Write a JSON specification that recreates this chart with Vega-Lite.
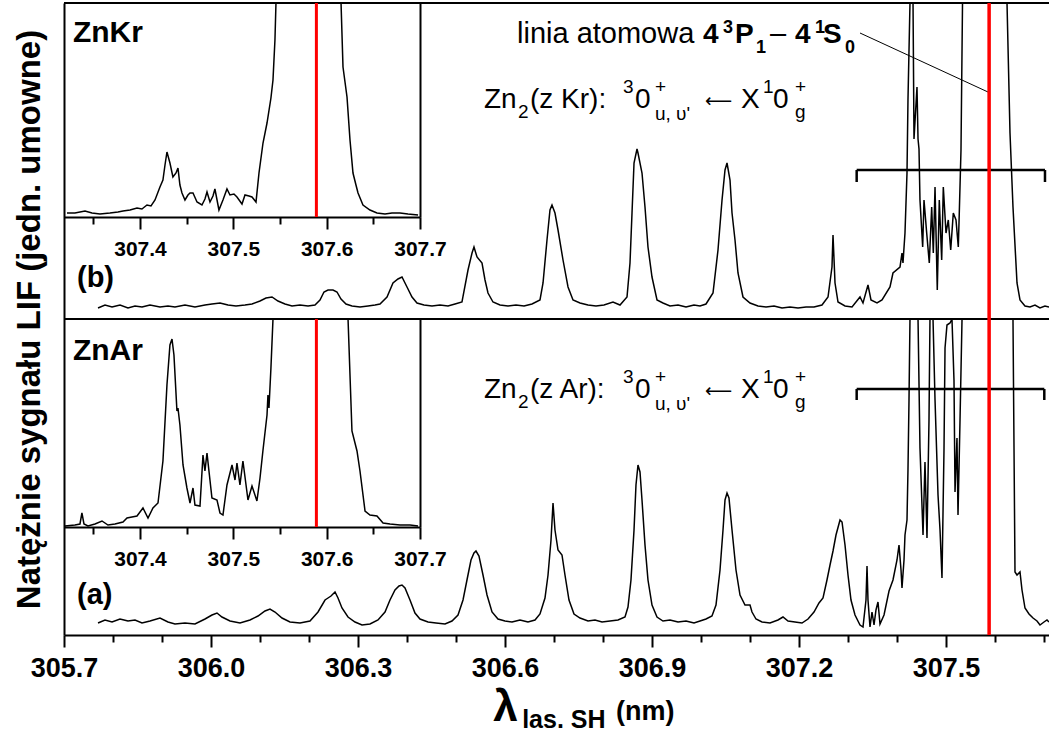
{
  "$schema": "https://vega.github.io/schema/vega-lite/v6.json",
  "width": 985,
  "height": 632,
  "autosize": {"type": "none"},
  "padding": {"left": 64, "top": 3, "right": 0, "bottom": 98},
  "background": "white",
  "config": {"view": {"stroke": null}, "font": "Liberation Sans"},
  "datasets": {
    "b": [
      {"x":305.7694,"y":11},{"x":305.7837,"y":14},{"x":305.7980,"y":12},{"x":305.8143,"y":14},{"x":305.8306,"y":11},{"x":305.8449,"y":13},{"x":305.8592,"y":12},{"x":305.8755,"y":14},{"x":305.8959,"y":12},{"x":305.9122,"y":13},{"x":305.9265,"y":12},{"x":305.9469,"y":14},{"x":305.9673,"y":12},{"x":305.9878,"y":14},{"x":306.0020,"y":15},{"x":306.0184,"y":16},{"x":306.0347,"y":14},{"x":306.0510,"y":13},{"x":306.0694,"y":14},{"x":306.0837,"y":15},{"x":306.1000,"y":18},{"x":306.1122,"y":21},{"x":306.1245,"y":22},{"x":306.1367,"y":18},{"x":306.1510,"y":15},{"x":306.1653,"y":13},{"x":306.1816,"y":14},{"x":306.1980,"y":13},{"x":306.2122,"y":14},{"x":306.2224,"y":19},{"x":306.2306,"y":27},{"x":306.2388,"y":29},{"x":306.2490,"y":29},{"x":306.2571,"y":27},{"x":306.2653,"y":20},{"x":306.2755,"y":15},{"x":306.2878,"y":13},{"x":306.3041,"y":12},{"x":306.3204,"y":13},{"x":306.3347,"y":14},{"x":306.3449,"y":15},{"x":306.3592,"y":22},{"x":306.3714,"y":36},{"x":306.3816,"y":40},{"x":306.3898,"y":42},{"x":306.4000,"y":32},{"x":306.4102,"y":22},{"x":306.4204,"y":16},{"x":306.4347,"y":14},{"x":306.4510,"y":13},{"x":306.4673,"y":14},{"x":306.4837,"y":13},{"x":306.4980,"y":15},{"x":306.5122,"y":17},{"x":306.5245,"y":49},{"x":306.5327,"y":66},{"x":306.5367,"y":72},{"x":306.5429,"y":62},{"x":306.5531,"y":56},{"x":306.5592,"y":39},{"x":306.5653,"y":26},{"x":306.5755,"y":17},{"x":306.5898,"y":14},{"x":306.6061,"y":13},{"x":306.6224,"y":14},{"x":306.6388,"y":13},{"x":306.6551,"y":15},{"x":306.6714,"y":19},{"x":306.6776,"y":36},{"x":306.6857,"y":79},{"x":306.6918,"y":109},{"x":306.6959,"y":114},{"x":306.7020,"y":106},{"x":306.7082,"y":89},{"x":306.7184,"y":59},{"x":306.7286,"y":32},{"x":306.7388,"y":19},{"x":306.7531,"y":16},{"x":306.7694,"y":14},{"x":306.7857,"y":13},{"x":306.8020,"y":14},{"x":306.8204,"y":17},{"x":306.8347,"y":14},{"x":306.8490,"y":22},{"x":306.8551,"y":56},{"x":306.8592,"y":106},{"x":306.8633,"y":156},{"x":306.8694,"y":170},{"x":306.8714,"y":166},{"x":306.8796,"y":146},{"x":306.8857,"y":112},{"x":306.8918,"y":72},{"x":306.9000,"y":42},{"x":306.9102,"y":19},{"x":306.9224,"y":16},{"x":306.9367,"y":13},{"x":306.9531,"y":14},{"x":306.9694,"y":12},{"x":306.9857,"y":14},{"x":306.9980,"y":13},{"x":307.0102,"y":15},{"x":307.0245,"y":26},{"x":307.0347,"y":69},{"x":307.0429,"y":119},{"x":307.0490,"y":149},{"x":307.0531,"y":156},{"x":307.0592,"y":139},{"x":307.0633,"y":106},{"x":307.0694,"y":79},{"x":307.0755,"y":46},{"x":307.0857,"y":22},{"x":307.1000,"y":16},{"x":307.1163,"y":13},{"x":307.1327,"y":12},{"x":307.1490,"y":13},{"x":307.1653,"y":11},{"x":307.1816,"y":12},{"x":307.1980,"y":11},{"x":307.2143,"y":12},{"x":307.2306,"y":12},{"x":307.2469,"y":14},{"x":307.2592,"y":22},{"x":307.2673,"y":52},{"x":307.2694,"y":84},{"x":307.2735,"y":36},{"x":307.2796,"y":17},{"x":307.2939,"y":13},{"x":307.3082,"y":12},{"x":307.3245,"y":22},{"x":307.3306,"y":16},{"x":307.3408,"y":34},{"x":307.3469,"y":19},{"x":307.3592,"y":16},{"x":307.3694,"y":19},{"x":307.3857,"y":32},{"x":307.3918,"y":46},{"x":307.4061,"y":52},{"x":307.4102,"y":66},{"x":307.4122,"y":56},{"x":307.4163,"y":86},{"x":307.4204,"y":146},{"x":307.4224,"y":219},{"x":307.4265,"y":316},{"x":307.4327,"y":316},{"x":307.4347,"y":180},{"x":307.4408,"y":232},{"x":307.4429,"y":180},{"x":307.4449,"y":170},{"x":307.4469,"y":119},{"x":307.4524,"y":72},{"x":307.4551,"y":119},{"x":307.4606,"y":86},{"x":307.4659,"y":56},{"x":307.4708,"y":112},{"x":307.4741,"y":66},{"x":307.4776,"y":132},{"x":307.4822,"y":29},{"x":307.4863,"y":119},{"x":307.4912,"y":59},{"x":307.4945,"y":132},{"x":307.5000,"y":86},{"x":307.5047,"y":99},{"x":307.5096,"y":69},{"x":307.5149,"y":106},{"x":307.5204,"y":99},{"x":307.5251,"y":72},{"x":307.5271,"y":106},{"x":307.5306,"y":169},{"x":307.5337,"y":316},{"x":307.6245,"y":316},{"x":307.6306,"y":186},{"x":307.6367,"y":112},{"x":307.6449,"y":36},{"x":307.6510,"y":19},{"x":307.6612,"y":13},{"x":307.6714,"y":12},{"x":307.6816,"y":14},{"x":307.6918,"y":11},{"x":307.7020,"y":13},{"x":307.7102,"y":12}
    ],
    "a": [
      {"x":305.7694,"y":12},{"x":305.7837,"y":15},{"x":305.7980,"y":13},{"x":305.8143,"y":16},{"x":305.8306,"y":14},{"x":305.8449,"y":15},{"x":305.8592,"y":12},{"x":305.8755,"y":14},{"x":305.8959,"y":17},{"x":305.9122,"y":13},{"x":305.9265,"y":11},{"x":305.9469,"y":12},{"x":305.9673,"y":11},{"x":305.9878,"y":16},{"x":306.0020,"y":20},{"x":306.0122,"y":22},{"x":306.0224,"y":18},{"x":306.0388,"y":14},{"x":306.0592,"y":12},{"x":306.0796,"y":15},{"x":306.0959,"y":19},{"x":306.1102,"y":24},{"x":306.1204,"y":26},{"x":306.1306,"y":23},{"x":306.1449,"y":17},{"x":306.1612,"y":13},{"x":306.1816,"y":12},{"x":306.2020,"y":14},{"x":306.2184,"y":23},{"x":306.2327,"y":35},{"x":306.2388,"y":37},{"x":306.2449,"y":39},{"x":306.2531,"y":43},{"x":306.2592,"y":37},{"x":306.2673,"y":27},{"x":306.2796,"y":18},{"x":306.2939,"y":13},{"x":306.3082,"y":10},{"x":306.3245,"y":11},{"x":306.3408,"y":15},{"x":306.3551,"y":23},{"x":306.3653,"y":35},{"x":306.3755,"y":45},{"x":306.3837,"y":49},{"x":306.3898,"y":50},{"x":306.3959,"y":47},{"x":306.4061,"y":35},{"x":306.4163,"y":22},{"x":306.4265,"y":16},{"x":306.4429,"y":13},{"x":306.4592,"y":12},{"x":306.4776,"y":11},{"x":306.4918,"y":14},{"x":306.5041,"y":20},{"x":306.5143,"y":35},{"x":306.5224,"y":55},{"x":306.5306,"y":75},{"x":306.5367,"y":82},{"x":306.5408,"y":84},{"x":306.5469,"y":79},{"x":306.5551,"y":60},{"x":306.5633,"y":40},{"x":306.5735,"y":23},{"x":306.5857,"y":16},{"x":306.6000,"y":14},{"x":306.6143,"y":13},{"x":306.6306,"y":15},{"x":306.6469,"y":13},{"x":306.6612,"y":15},{"x":306.6714,"y":21},{"x":306.6816,"y":37},{"x":306.6878,"y":60},{"x":306.6939,"y":95},{"x":306.6980,"y":132},{"x":306.7020,"y":105},{"x":306.7082,"y":85},{"x":306.7163,"y":80},{"x":306.7224,"y":60},{"x":306.7306,"y":35},{"x":306.7408,"y":21},{"x":306.7531,"y":17},{"x":306.7694,"y":14},{"x":306.7837,"y":15},{"x":306.7980,"y":13},{"x":306.8143,"y":14},{"x":306.8306,"y":15},{"x":306.8449,"y":18},{"x":306.8510,"y":28},{"x":306.8571,"y":55},{"x":306.8633,"y":105},{"x":306.8673,"y":150},{"x":306.8714,"y":170},{"x":306.8755,"y":163},{"x":306.8796,"y":135},{"x":306.8857,"y":90},{"x":306.8918,"y":55},{"x":306.9000,"y":30},{"x":306.9102,"y":18},{"x":306.9224,"y":14},{"x":306.9367,"y":15},{"x":306.9531,"y":13},{"x":306.9694,"y":14},{"x":306.9857,"y":12},{"x":306.9980,"y":14},{"x":307.0102,"y":16},{"x":307.0224,"y":19},{"x":307.0306,"y":30},{"x":307.0388,"y":65},{"x":307.0449,"y":105},{"x":307.0490,"y":135},{"x":307.0531,"y":142},{"x":307.0571,"y":137},{"x":307.0633,"y":105},{"x":307.0714,"y":65},{"x":307.0796,"y":40},{"x":307.0898,"y":30},{"x":307.1000,"y":30},{"x":307.1041,"y":23},{"x":307.1122,"y":16},{"x":307.1245,"y":13},{"x":307.1408,"y":12},{"x":307.1571,"y":15},{"x":307.1673,"y":18},{"x":307.1776,"y":14},{"x":307.1918,"y":13},{"x":307.2061,"y":12},{"x":307.2184,"y":16},{"x":307.2306,"y":23},{"x":307.2408,"y":32},{"x":307.2490,"y":37},{"x":307.2571,"y":55},{"x":307.2633,"y":70},{"x":307.2694,"y":84},{"x":307.2755,"y":100},{"x":307.2837,"y":115},{"x":307.2878,"y":113},{"x":307.2939,"y":90},{"x":307.3000,"y":60},{"x":307.3061,"y":35},{"x":307.3143,"y":20},{"x":307.3245,"y":10},{"x":307.3306,"y":8},{"x":307.3367,"y":35},{"x":307.3388,"y":69},{"x":307.3408,"y":35},{"x":307.3449,"y":8},{"x":307.3490,"y":23},{"x":307.3531,"y":10},{"x":307.3571,"y":25},{"x":307.3612,"y":33},{"x":307.3653,"y":11},{"x":307.3735,"y":20},{"x":307.3837,"y":44},{"x":307.3918,"y":55},{"x":307.4000,"y":75},{"x":307.4041,"y":90},{"x":307.4082,"y":65},{"x":307.4102,"y":47},{"x":307.4143,"y":75},{"x":307.4163,"y":100},{"x":307.4204,"y":115},{"x":307.4224,"y":165},{"x":307.4245,"y":235},{"x":307.4265,"y":316},{"x":307.4306,"y":316},{"x":307.4429,"y":316},{"x":307.4469,"y":187},{"x":307.4531,"y":100},{"x":307.4571,"y":173},{"x":307.4612,"y":97},{"x":307.4653,"y":215},{"x":307.4673,"y":316},{"x":307.4735,"y":316},{"x":307.4776,"y":235},{"x":307.4837,"y":140},{"x":307.4878,"y":105},{"x":307.4918,"y":57},{"x":307.4959,"y":185},{"x":307.4980,"y":287},{"x":307.5020,"y":310},{"x":307.5082,"y":312},{"x":307.5122,"y":316},{"x":307.5163,"y":255},{"x":307.5184,"y":143},{"x":307.5224,"y":197},{"x":307.5245,"y":120},{"x":307.5286,"y":215},{"x":307.5327,"y":316},{"x":307.6367,"y":316},{"x":307.6408,"y":63},{"x":307.6449,"y":60},{"x":307.6510,"y":63},{"x":307.6551,"y":45},{"x":307.6612,"y":27},{"x":307.6694,"y":21},{"x":307.6776,"y":17},{"x":307.6857,"y":14},{"x":307.6918,"y":10},{"x":307.7000,"y":13},{"x":307.7061,"y":15},{"x":307.7102,"y":13}
    ],
    "ib": [
      {"x":307.3218,"y":4},{"x":307.3303,"y":4},{"x":307.3411,"y":6},{"x":307.3486,"y":4},{"x":307.3571,"y":3},{"x":307.3678,"y":4},{"x":307.3764,"y":5},{"x":307.3818,"y":6},{"x":307.3893,"y":7},{"x":307.3968,"y":9},{"x":307.4021,"y":8},{"x":307.4075,"y":12},{"x":307.4118,"y":11},{"x":307.4161,"y":17},{"x":307.4214,"y":30},{"x":307.4246,"y":37},{"x":307.4268,"y":52},{"x":307.4289,"y":65},{"x":307.4321,"y":54},{"x":307.4353,"y":40},{"x":307.4386,"y":44},{"x":307.4407,"y":49},{"x":307.4428,"y":32},{"x":307.4450,"y":24},{"x":307.4482,"y":17},{"x":307.4514,"y":22},{"x":307.4536,"y":24},{"x":307.4568,"y":24},{"x":307.4611,"y":15},{"x":307.4664,"y":12},{"x":307.4696,"y":18},{"x":307.4718,"y":25},{"x":307.4750,"y":15},{"x":307.4782,"y":21},{"x":307.4803,"y":28},{"x":307.4846,"y":7},{"x":307.4889,"y":17},{"x":307.4932,"y":28},{"x":307.4964,"y":22},{"x":307.5007,"y":23},{"x":307.5039,"y":20},{"x":307.5093,"y":13},{"x":307.5125,"y":22},{"x":307.5168,"y":21},{"x":307.5200,"y":20},{"x":307.5243,"y":15},{"x":307.5275,"y":44},{"x":307.5318,"y":74},{"x":307.5361,"y":94},{"x":307.5403,"y":119},{"x":307.5425,"y":137},{"x":307.5446,"y":177},{"x":307.5457,"y":214},{"x":307.6154,"y":214},{"x":307.6175,"y":150},{"x":307.6218,"y":120},{"x":307.6250,"y":77},{"x":307.6282,"y":44},{"x":307.6314,"y":32},{"x":307.6336,"y":24},{"x":307.6389,"y":12},{"x":307.6464,"y":7},{"x":307.6539,"y":4},{"x":307.6625,"y":3},{"x":307.6700,"y":4},{"x":307.6786,"y":4},{"x":307.6871,"y":3},{"x":307.6979,"y":2}
    ],
    "ia": [
      {"x":307.3196,"y":1},{"x":307.3303,"y":2},{"x":307.3357,"y":3},{"x":307.3378,"y":14},{"x":307.3400,"y":3},{"x":307.3443,"y":1},{"x":307.3518,"y":3},{"x":307.3593,"y":6},{"x":307.3657,"y":2},{"x":307.3732,"y":3},{"x":307.3818,"y":5},{"x":307.3861,"y":9},{"x":307.3914,"y":10},{"x":307.3968,"y":11},{"x":307.4032,"y":19},{"x":307.4086,"y":9},{"x":307.4139,"y":19},{"x":307.4193,"y":24},{"x":307.4246,"y":66},{"x":307.4289,"y":142},{"x":307.4321,"y":182},{"x":307.4343,"y":188},{"x":307.4364,"y":172},{"x":307.4396,"y":116},{"x":307.4407,"y":119},{"x":307.4428,"y":102},{"x":307.4461,"y":62},{"x":307.4503,"y":39},{"x":307.4536,"y":24},{"x":307.4568,"y":39},{"x":307.4589,"y":22},{"x":307.4643,"y":21},{"x":307.4675,"y":72},{"x":307.4696,"y":56},{"x":307.4718,"y":74},{"x":307.4739,"y":56},{"x":307.4771,"y":29},{"x":307.4825,"y":27},{"x":307.4857,"y":14},{"x":307.4889,"y":12},{"x":307.4932,"y":42},{"x":307.4986,"y":62},{"x":307.5018,"y":47},{"x":307.5039,"y":64},{"x":307.5071,"y":42},{"x":307.5103,"y":66},{"x":307.5157,"y":27},{"x":307.5200,"y":41},{"x":307.5253,"y":26},{"x":307.5286,"y":49},{"x":307.5318,"y":77},{"x":307.5361,"y":112},{"x":307.5371,"y":132},{"x":307.5382,"y":119},{"x":307.5403,"y":159},{"x":307.5425,"y":208},{"x":307.6229,"y":208},{"x":307.6271,"y":96},{"x":307.6325,"y":76},{"x":307.6357,"y":56},{"x":307.6411,"y":16},{"x":307.6464,"y":12},{"x":307.6539,"y":11},{"x":307.6604,"y":4},{"x":307.6679,"y":3},{"x":307.6786,"y":2},{"x":307.6893,"y":2},{"x":307.6979,"y":1}
    ]
  },
  "resolve": {"scale": {"x": "independent", "y": "independent"}},
  "layer": [
    {
      "data": {"values": [{}]},
      "layer": [
        {
          "mark": {"type": "rule", "color": "black", "strokeWidth": 2},
          "encoding": {
            "y": {"datum": 1, "type": "quantitative", "scale": {"domain": [0, 1], "nice": false, "zero": false},
              "axis": {"orient": "left", "title": "Natężnie sygnału LIF (jedn. umowne)", "titleFont": "Liberation Sans", "titleFontSize": 33, "titleFontWeight": "bold", "titleColor": "black", "titlePadding": 18, "ticks": false, "labels": false, "grid": false, "domainColor": "black", "domainWidth": 2}}
          }
        },
        {
          "mark": {"type": "rule", "color": "black", "strokeWidth": 2},
          "encoding": {"y": {"datum": 0.5, "type": "quantitative"}}
        }
      ]
    },
    {
      "encoding": {
        "x": {"field": "x", "type": "quantitative", "scale": {"domain": [305.7, 307.7102], "nice": false, "zero": false},
          "axis": {"orient": "bottom", "values": [305.8, 305.9, 306.1, 306.2, 306.4, 306.5, 306.7, 306.8, 307.0, 307.1, 307.3, 307.4, 307.6, 307.7], "title": null, "grid": false, "domain": false, "labels": false, "tickColor": "black", "tickWidth": 2, "tickSize": 7}},
        "y": {"field": "y", "type": "quantitative", "scale": {"domain": [0, 316], "range": [316, 0], "nice": false, "zero": false}, "axis": null}
      },
      "layer": [
        {"data": {"name": "b"}, "mark": {"type": "line", "color": "black", "strokeWidth": 1.5}},
        {"data": {"values": [{"x": 307.3177, "x2": 307.702, "y": 149, "y2": 149}, {"x": 307.3177, "x2": 307.3177, "y": 137, "y2": 149}, {"x": 307.702, "x2": 307.702, "y": 137, "y2": 149}]},
          "mark": {"type": "rule", "color": "black", "strokeWidth": 2.5},
          "encoding": {"x2": {"field": "x2"}, "y2": {"field": "y2"}}},
        {"data": {"values": [{"x": 307.3245, "x2": 307.5857, "y": 286, "y2": 227}]},
          "mark": {"type": "rule", "color": "black", "strokeWidth": 1},
          "encoding": {"x2": {"field": "x2"}, "y2": {"field": "y2"}}},
        {"data": {"values": [{"x": 305.7265, "y": 32, "t": "(b)"}]},
          "mark": {"type": "text", "align": "left", "baseline": "alphabetic", "font": "Liberation Sans", "fontSize": 29, "fontWeight": "bold", "color": "black"},
          "encoding": {"text": {"field": "t"}}},
        {"data": {"values": [{"x": 306.6245, "y": 276, "t": "linia atomowa"}, {"x": 307.1408, "y": 276, "t": "–"}]},
          "mark": {"type": "text", "align": "left", "baseline": "alphabetic", "font": "Liberation Sans", "fontSize": 29, "color": "black"},
          "encoding": {"text": {"field": "t"}}},
        {"data": {"values": [{"x": 307.0041, "y": 276, "t": "4"}, {"x": 307.0694, "y": 276, "t": "P"}, {"x": 307.1918, "y": 276, "t": "4"}, {"x": 307.249, "y": 276, "t": "S"}]},
          "mark": {"type": "text", "align": "left", "baseline": "alphabetic", "font": "Liberation Sans", "fontSize": 28, "fontWeight": "bold", "color": "black"},
          "encoding": {"text": {"field": "t"}}},
        {"data": {"values": [{"x": 307.0449, "y": 286, "t": "3"}, {"x": 307.1122, "y": 266, "t": "1"}, {"x": 307.2327, "y": 286, "t": "1"}, {"x": 307.2939, "y": 266, "t": "0"}]},
          "mark": {"type": "text", "align": "left", "baseline": "alphabetic", "font": "Liberation Sans", "fontSize": 18, "fontWeight": "bold", "color": "black"},
          "encoding": {"text": {"field": "t"}}},
        {"data": {"values": [{"x": 306.5571, "y": 211, "t": "Zn"}, {"x": 306.651, "y": 211, "t": "(z Kr):"}, {"x": 306.8653, "y": 211, "t": "0"}, {"x": 307.0816, "y": 211, "t": "X"}, {"x": 307.1469, "y": 211, "t": "0"}]},
          "mark": {"type": "text", "align": "left", "baseline": "alphabetic", "font": "Liberation Sans", "fontSize": 28, "color": "black"},
          "encoding": {"text": {"field": "t"}}},
        {"data": {"values": [{"x": 307.0082, "y": 212, "t": "⟵"}]},
          "mark": {"type": "text", "align": "left", "baseline": "alphabetic", "font": "DejaVu Sans", "fontSize": 19, "color": "black"},
          "encoding": {"text": {"field": "t"}}},
        {"data": {"values": [{"x": 306.6265, "y": 201, "t": "2"}, {"x": 306.8408, "y": 226, "t": "3"}, {"x": 306.9061, "y": 226, "t": "+"}, {"x": 306.9061, "y": 199, "t": "u, υ'"}, {"x": 307.1265, "y": 226, "t": "1"}, {"x": 307.1918, "y": 226, "t": "+"}, {"x": 307.1918, "y": 201, "t": "g"}]},
          "mark": {"type": "text", "align": "left", "baseline": "alphabetic", "font": "Liberation Sans", "fontSize": 19, "color": "black"},
          "encoding": {"text": {"field": "t"}}}
      ]
    },
    {
      "encoding": {
        "x": {"field": "x", "type": "quantitative", "scale": {"domain": [305.7, 307.7102], "nice": false, "zero": false},
          "axis": {"orient": "bottom", "values": [305.7, 306.0, 306.3, 306.6, 306.9, 307.2, 307.5], "format": ".1f", "title": null, "grid": false, "domain": true, "domainColor": "black", "domainWidth": 2, "tickColor": "black", "tickWidth": 2, "tickSize": 12, "labelFont": "Liberation Sans", "labelFontSize": 27, "labelFontWeight": "bold", "labelColor": "black", "labelPadding": 8, "labelFlush": false, "labelOverlap": false}},
        "y": {"field": "y", "type": "quantitative", "scale": {"domain": [0, 316], "range": [632, 316], "nice": false, "zero": false}, "axis": null}
      },
      "layer": [
        {"data": {"name": "a"}, "mark": {"type": "line", "color": "black", "strokeWidth": 1.5}},
        {"data": {"values": [{"x": 307.3177, "x2": 307.7006, "y": 246, "y2": 246}, {"x": 307.3177, "x2": 307.3177, "y": 235, "y2": 246}, {"x": 307.7006, "x2": 307.7006, "y": 235, "y2": 246}]},
          "mark": {"type": "rule", "color": "black", "strokeWidth": 2.5},
          "encoding": {"x2": {"field": "x2"}, "y2": {"field": "y2"}}},
        {"data": {"values": [{"x": 305.7265, "y": 31, "t": "(a)"}]},
          "mark": {"type": "text", "align": "left", "baseline": "alphabetic", "font": "Liberation Sans", "fontSize": 29, "fontWeight": "bold", "color": "black"},
          "encoding": {"text": {"field": "t"}}},
        {"data": {"values": [{"x": 306.5571, "y": 237, "t": "Zn"}, {"x": 306.651, "y": 237, "t": "(z Ar):"}, {"x": 306.8653, "y": 237, "t": "0"}, {"x": 307.0816, "y": 237, "t": "X"}, {"x": 307.1469, "y": 237, "t": "0"}]},
          "mark": {"type": "text", "align": "left", "baseline": "alphabetic", "font": "Liberation Sans", "fontSize": 28, "color": "black"},
          "encoding": {"text": {"field": "t"}}},
        {"data": {"values": [{"x": 307.0082, "y": 238, "t": "⟵"}]},
          "mark": {"type": "text", "align": "left", "baseline": "alphabetic", "font": "DejaVu Sans", "fontSize": 19, "color": "black"},
          "encoding": {"text": {"field": "t"}}},
        {"data": {"values": [{"x": 306.6265, "y": 227, "t": "2"}, {"x": 306.8408, "y": 252, "t": "3"}, {"x": 306.9061, "y": 252, "t": "+"}, {"x": 306.9061, "y": 225, "t": "u, υ'"}, {"x": 307.1265, "y": 252, "t": "1"}, {"x": 307.1918, "y": 252, "t": "+"}, {"x": 307.1918, "y": 227, "t": "g"}]},
          "mark": {"type": "text", "align": "left", "baseline": "alphabetic", "font": "Liberation Sans", "fontSize": 19, "color": "black"},
          "encoding": {"text": {"field": "t"}}},
        {"data": {"values": [{"x": 306.601, "y": -86, "t": "λ"}]},
          "mark": {"type": "text", "align": "center", "baseline": "alphabetic", "font": "Liberation Sans", "fontSize": 44, "fontWeight": "bold", "color": "black"},
          "encoding": {"text": {"field": "t"}}},
        {"data": {"values": [{"x": 306.635, "y": -93, "t": "las. SH"}]},
          "mark": {"type": "text", "align": "left", "baseline": "alphabetic", "font": "Liberation Sans", "fontSize": 25, "fontWeight": "bold", "color": "black"},
          "encoding": {"text": {"field": "t"}}},
        {"data": {"values": [{"x": 306.8265, "y": -85, "t": "(nm)"}]},
          "mark": {"type": "text", "align": "left", "baseline": "alphabetic", "font": "Liberation Sans", "fontSize": 27, "fontWeight": "bold", "color": "black"},
          "encoding": {"text": {"field": "t"}}}
      ]
    },
    {
      "data": {"values": [{}]},
      "mark": {"type": "rule", "color": "#ff0000", "strokeWidth": 3.5},
      "encoding": {"x": {"datum": 307.588, "type": "quantitative", "scale": {"domain": [305.7, 307.7102], "nice": false, "zero": false}, "axis": null}}
    },
    {
      "encoding": {
        "x": {"field": "x", "type": "quantitative", "scale": {"domain": [307.3186, 307.7], "range": [0, 356], "nice": false, "zero": false},
          "axis": {"orient": "bottom", "offset": -418, "values": [307.4, 307.5, 307.6, 307.7], "format": ".1f", "title": null, "grid": false, "domainColor": "black", "domainWidth": 2, "tickColor": "black", "tickWidth": 2, "tickSize": 12, "labelFont": "Liberation Sans", "labelFontSize": 21, "labelFontWeight": "bold", "labelColor": "black", "labelPadding": 9, "labelFlush": false, "labelOverlap": false}},
        "y": {"field": "y", "type": "quantitative", "scale": {"domain": [0, 214], "range": [214, 0], "nice": false, "zero": false},
          "axis": {"orient": "right", "offset": -629, "title": null, "grid": false, "ticks": false, "labels": false, "domainColor": "black", "domainWidth": 2}}
      },
      "layer": [
        {"data": {"name": "ib"}, "mark": {"type": "line", "color": "black", "strokeWidth": 1.5}},
        {"data": {"values": [{"x": 307.3282, "y": 175, "t": "ZnKr"}]},
          "mark": {"type": "text", "align": "left", "baseline": "alphabetic", "font": "Liberation Sans", "fontSize": 30, "fontWeight": "bold", "color": "black"},
          "encoding": {"text": {"field": "t"}}}
      ]
    },
    {
      "data": {"values": [{}]},
      "mark": {"type": "rule", "color": "#ff0000", "strokeWidth": 3},
      "encoding": {
        "x": {"datum": 307.589, "type": "quantitative", "scale": {"domain": [307.3186, 307.7], "range": [0, 356], "nice": false, "zero": false},
          "axis": {"orient": "bottom", "offset": -418, "values": [307.35, 307.45, 307.55, 307.65], "title": null, "grid": false, "domain": false, "labels": false, "tickColor": "black", "tickWidth": 2, "tickSize": 7}},
        "y": {"datum": 0, "type": "quantitative", "scale": {"domain": [0, 214], "range": [214, 0], "nice": false, "zero": false}, "axis": null},
        "y2": {"datum": 214}
      }
    },
    {
      "encoding": {
        "x": {"field": "x", "type": "quantitative", "scale": {"domain": [307.3186, 307.7], "range": [0, 356], "nice": false, "zero": false},
          "axis": {"orient": "bottom", "offset": -108, "values": [307.4, 307.5, 307.6, 307.7], "format": ".1f", "title": null, "grid": false, "domainColor": "black", "domainWidth": 2, "tickColor": "black", "tickWidth": 2, "tickSize": 12, "labelFont": "Liberation Sans", "labelFontSize": 21, "labelFontWeight": "bold", "labelColor": "black", "labelPadding": 9, "labelFlush": false, "labelOverlap": false}},
        "y": {"field": "y", "type": "quantitative", "scale": {"domain": [0, 208], "range": [524, 316], "nice": false, "zero": false},
          "axis": {"orient": "right", "offset": -629, "title": null, "grid": false, "ticks": false, "labels": false, "domainColor": "black", "domainWidth": 2}}
      },
      "layer": [
        {"data": {"name": "ia"}, "mark": {"type": "line", "color": "black", "strokeWidth": 1.5}},
        {"data": {"values": [{"x": 307.3282, "y": 167, "t": "ZnAr"}]},
          "mark": {"type": "text", "align": "left", "baseline": "alphabetic", "font": "Liberation Sans", "fontSize": 30, "fontWeight": "bold", "color": "black"},
          "encoding": {"text": {"field": "t"}}}
      ]
    },
    {
      "data": {"values": [{}]},
      "mark": {"type": "rule", "color": "#ff0000", "strokeWidth": 3},
      "encoding": {
        "x": {"datum": 307.589, "type": "quantitative", "scale": {"domain": [307.3186, 307.7], "range": [0, 356], "nice": false, "zero": false},
          "axis": {"orient": "bottom", "offset": -108, "values": [307.35, 307.45, 307.55, 307.65], "title": null, "grid": false, "domain": false, "labels": false, "tickColor": "black", "tickWidth": 2, "tickSize": 7}},
        "y": {"datum": 0, "type": "quantitative", "scale": {"domain": [0, 208], "range": [524, 316], "nice": false, "zero": false}, "axis": null},
        "y2": {"datum": 208}
      }
    }
  ]
}
